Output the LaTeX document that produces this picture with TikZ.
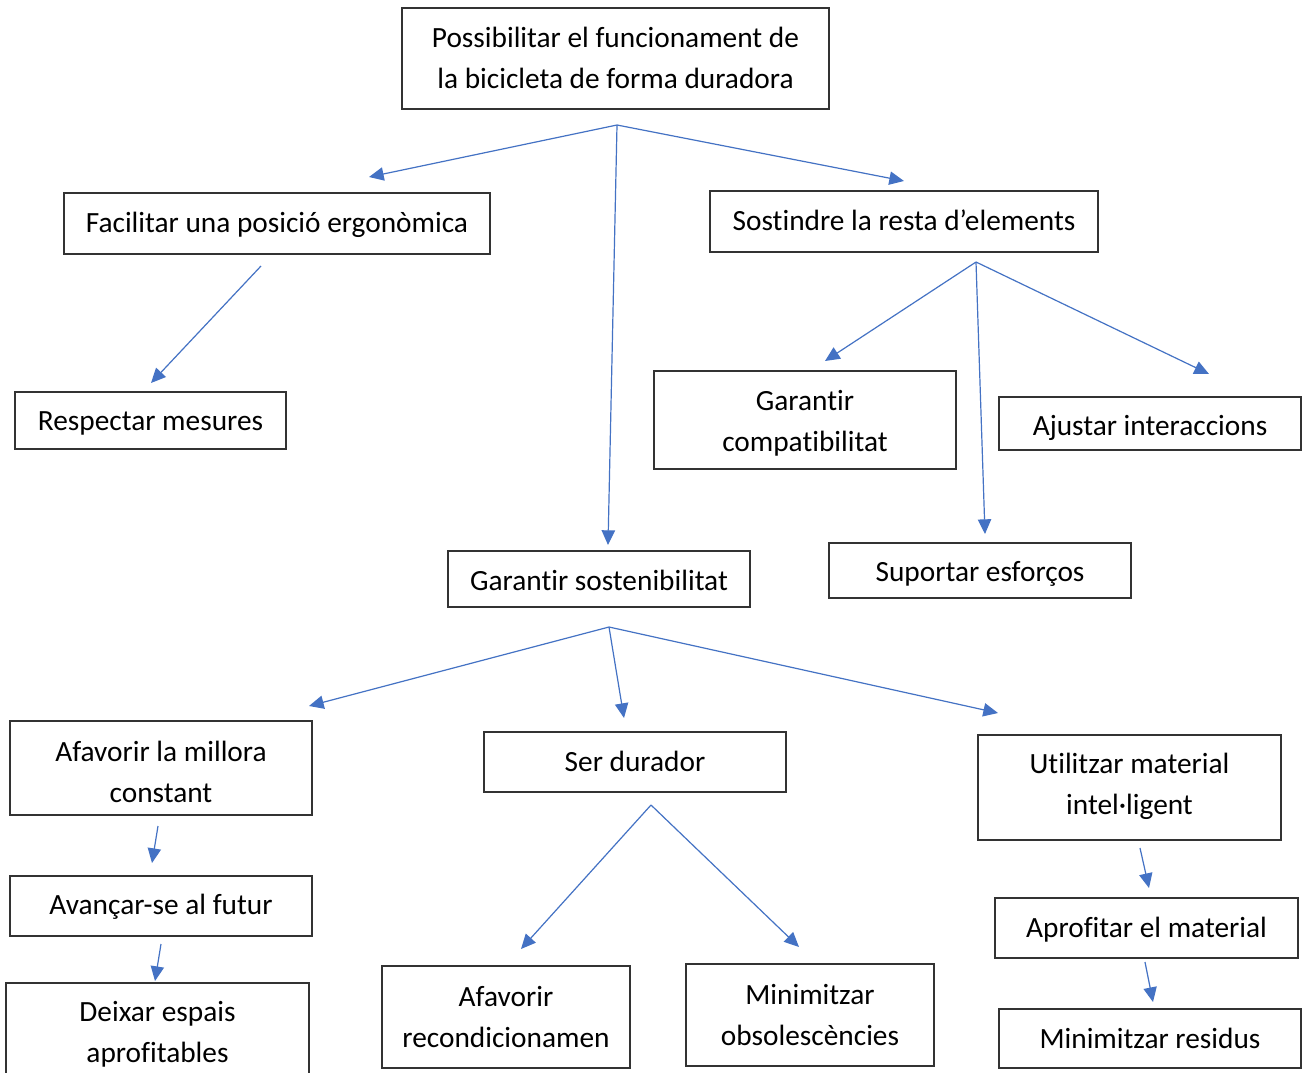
\documentclass[tikz,border=0pt]{standalone}
\usepackage{fontspec}
\setmainfont[Ligatures=CommonOff]{Carlito}
\usetikzlibrary{arrows.meta}
\definecolor{arr}{HTML}{4472C4}
\tikzset{
  box/.style={draw=black!80, line width=0.9pt, inner sep=0pt},
  lbl/.style={inner sep=0pt, align=center, font=\fontsize{22}{30.75}\selectfont},
  conn/.style={draw=arr, line width=0.9pt},
  arw/.style={conn, -{Triangle[length=11pt,width=10pt]}}
}
\newcommand{\mybx}[6]{%
  \node[box,minimum width={#3*0.75pt},minimum height={#4*0.75pt}] (#1) at (#2) {};
  \node[lbl] (#1-t) at ([yshift={-#6*0.75pt}]#1.center) {#5};
}
\begin{document}
\begin{tikzpicture}[x=0.75pt,y=-0.75pt]
\useasboundingbox (0,0) rectangle (1306,1072);
\clip (0,0) rectangle (1306,1072);
\fill[white] (0,0) rectangle (1306,1072);
\mybx{root}{615.5,58.5}{427}{101}{Possibilitar el funcionament de\\la bicicleta de forma duradora}{-1}
\mybx{fac}{277,223.5}{426}{61}{Facilitar una posició ergonòmica}{1}
\mybx{sos}{904,221.5}{388}{61}{Sostindre la resta d’elements}{-1}
\mybx{res}{150.5,420.5}{271}{57}{Respectar mesures}{3}
\mybx{comp}{805,420}{302}{98}{Garantir\\compatibilitat}{3}
\mybx{aju}{1150,423.5}{302}{53}{Ajustar interaccions}{4}
\mybx{sup}{980,570.5}{302}{55}{Suportar esforços}{3}
\mybx{gs}{599,579}{302}{56}{Garantir sostenibilitat}{1}
\mybx{afm}{161,768}{302}{94}{Afavorir la millora\\constant}{4}
\mybx{ser}{635,762}{302}{60}{Ser durador}{-1}
\mybx{uti}{1129.5,787.5}{303}{105}{Utilitzar material\\intel·ligent}{-1}
\mybx{ava}{161,906}{302}{60}{Avançar-se al futur}{1}
\mybx{apr}{1146.5,928}{303}{60}{Aprofitar el material}{2}
\mybx{dei}{157.5,1032.5}{303}{99}{Deixar espais\\aprofitables}{2}
\mybx{rec}{506,1017}{248}{102}{Afavorir\\recondicionamen}{0}
\mybx{obs}{810,1015}{248}{102}{Minimitzar\\obsolescències}{0}
\mybx{min}{1150,1038.5}{302}{59}{Minimitzar residus}{0}

% junctions and free ends
\coordinate (j1) at (617,125);
\coordinate (t1a) at (369,177);
\coordinate (t1b) at (904,181);
\coordinate (t1c) at (608,545);
\coordinate (fs) at (261,266);
\coordinate (ft) at (151,383);
\coordinate (j2) at (976,262);
\coordinate (t2a) at (825,361);
\coordinate (t2b) at (985,534);
\coordinate (t2c) at (1209,374);
\coordinate (j3) at (609,627);
\coordinate (t3a) at (309,706);
\coordinate (t3b) at (624,718);
\coordinate (t3c) at (998,713);
\coordinate (as) at (158,826);
\coordinate (at) at (152,863);
\coordinate (bs) at (161,944);
\coordinate (bt) at (155,981);
\coordinate (j4) at (651,805);
\coordinate (t4a) at (521,949);
\coordinate (t4b) at (799,947);
\coordinate (us) at (1140,848);
\coordinate (ut) at (1149,888);
\coordinate (ps) at (1145,962);
\coordinate (pt) at (1153,1002);

\draw[arw] (j1) -- (t1a);
\draw[arw] (j1) -- (t1b);
\draw[arw] (j1) -- (t1c);
\draw[arw] (fs) -- (ft);
\draw[arw] (j2) -- (t2a);
\draw[arw] (j2) -- (t2b);
\draw[arw] (j2) -- (t2c);
\draw[arw] (j3) -- (t3a);
\draw[arw] (j3) -- (t3b);
\draw[arw] (j3) -- (t3c);
\draw[arw] (as) -- (at);
\draw[arw] (bs) -- (bt);
\draw[arw] (j4) -- (t4a);
\draw[arw] (j4) -- (t4b);
\draw[arw] (us) -- (ut);
\draw[arw] (ps) -- (pt);
\end{tikzpicture}
\end{document}
